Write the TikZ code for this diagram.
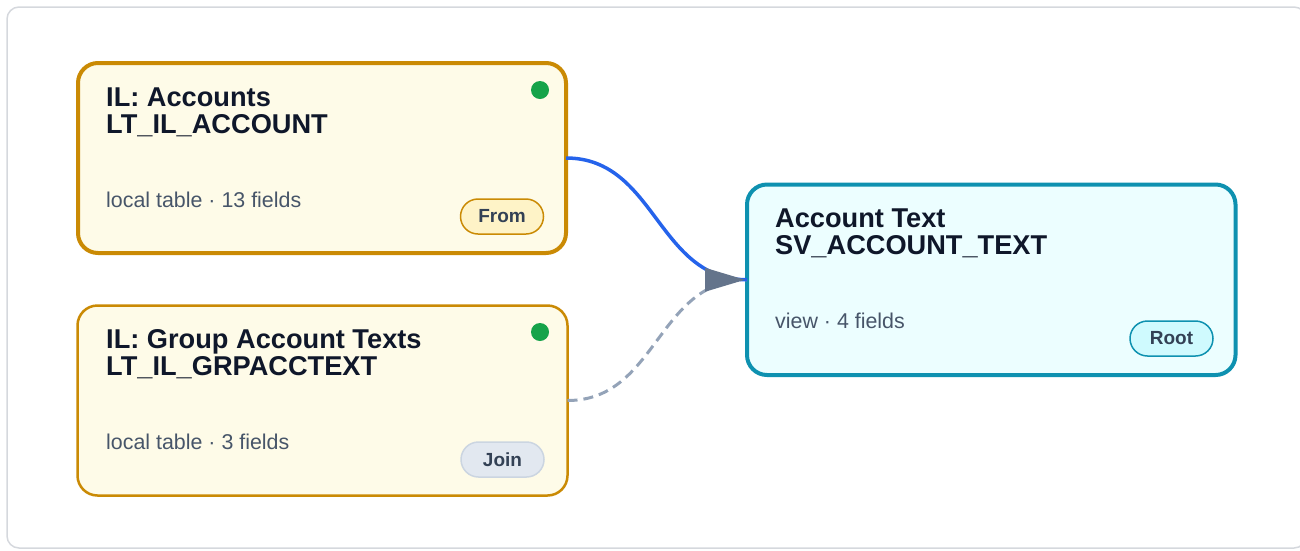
\documentclass[tikz,border=0pt]{standalone}
\usepackage{fontspec}
\setmainfont{Liberation Sans}
\usetikzlibrary{calc}
\definecolor{framegray}{HTML}{D5D8DD}
\definecolor{ilborder}{HTML}{CA8A04}
\definecolor{ilfill}{HTML}{FEFBE8}
\definecolor{svborder}{HTML}{0E91B0}
\definecolor{svfill}{HTML}{ECFEFF}
\definecolor{titletext}{HTML}{0F172A}
\definecolor{subtext}{HTML}{475569}
\definecolor{badgetext}{HTML}{334155}
\definecolor{fromfill}{HTML}{FEF3C7}
\definecolor{joinfill}{HTML}{E2E8F0}
\definecolor{joinborder}{HTML}{CBD5E1}
\definecolor{rootfill}{HTML}{CFFAFE}
\definecolor{dotgreen}{HTML}{16A34A}
\definecolor{fromblue}{HTML}{2563EB}
\definecolor{joingray}{HTML}{94A3B8}
\definecolor{tipgray}{HTML}{64748B}
\begin{document}
\begin{tikzpicture}[x=1pt,y=-1pt,
  card/.style={rectangle, rounded corners=20pt, outer sep=0pt, inner sep=0pt},
  ilcard/.style={card, draw=ilborder, fill=ilfill},
  svcard/.style={card, draw=svborder, fill=svfill, line width=4pt},
  titletxt/.style={anchor=base west, inner sep=0pt, text=titletext,
    font=\bfseries\fontsize{27.2}{27}\selectfont},
  subtxt/.style={anchor=base west, inner sep=0pt, text=subtext,
    font=\fontsize{21.4}{24}\selectfont},
  statusdot/.style={circle, fill=dotgreen, minimum size=18pt, inner sep=0pt},
  badge/.style={rectangle, rounded corners=17.5pt, minimum width=83pt,
    minimum height=35pt, inner sep=0pt, line width=1.5pt, text=badgetext,
    font=\bfseries\fontsize{19}{22}\selectfont},
  fromedge/.style={draw=fromblue, line width=3.5pt},
  joinedge/.style={draw=joingray, line width=3pt, dash pattern=on 10pt off 6pt},
  tipfill/.style={fill=tipgray}
]
\useasboundingbox (0,0) rectangle (1300,550);
\begin{scope}
  \clip (0,0) rectangle (1300,550);
  \draw[framegray, line width=1.5pt, rounded corners=12pt] (7,7) rectangle (1306,548);
\end{scope}

% cards
\node[ilcard, line width=4pt, minimum width=488pt, minimum height=190pt] (a) at (322,158) {};
\node[ilcard, line width=2.5pt, minimum width=490pt, minimum height=190pt] (b) at (322.5,400.5) {};
\node[svcard, minimum width=488.5pt, minimum height=190.5pt] (c) at (991.25,279.75) {};

% connectors
\draw[joinedge] (b.east) .. controls ($(b.east)+(90,0)$) and ($(c.west)+(-90,0)$) .. (c.west);
\draw[fromedge] (a.east) .. controls ($(a.east)+(90,0)$) and ($(c.west)+(-90,0)$) .. (c.west);
\fill[tipfill] ($(c.west)+(-2,0)$) -- ++(-40,-12) -- ++(0,24) -- cycle;

% card a
\node[titletxt] (a1) at ($(a.north west)+(28,43)$) {IL: Accounts};
\node[titletxt] (a2) at ($(a.north west)+(28,70)$) {LT\_IL\_ACCOUNT};
\node[subtxt] (a3) at ($(a.north west)+(28,144)$) {local table · 13 fields};
\node[statusdot] (ad) at ($(a.north east)+(-26,27)$) {};
\node[badge, fill=fromfill, draw=ilborder] (ab) at ($(a.south east)+(-64,-36.5)$) {From};

% card b
\node[titletxt] (b1) at ($(b.north west)+(28.5,43)$) {IL: Group Account Texts};
\node[titletxt] (b2) at ($(b.north west)+(28.5,70)$) {LT\_IL\_GRPACCTEXT};
\node[subtxt] (b3) at ($(b.north west)+(28.5,144)$) {local table · 3 fields};
\node[statusdot] (bd) at ($(b.north east)+(-27.5,26.5)$) {};
\node[badge, fill=joinfill, draw=joinborder] (bb) at ($(b.south east)+(-65,-36)$) {Join};

% card c
\node[titletxt] (c1) at ($(c.north west)+(28,43)$) {Account Text};
\node[titletxt] (c2) at ($(c.north west)+(28,70)$) {SV\_ACCOUNT\_TEXT};
\node[subtxt] (c3) at ($(c.north west)+(28,144)$) {view · 4 fields};
\node[badge, fill=rootfill, draw=svborder] (cb) at ($(c.south east)+(-64,-36.5)$) {Root};
\end{tikzpicture}
\end{document}
